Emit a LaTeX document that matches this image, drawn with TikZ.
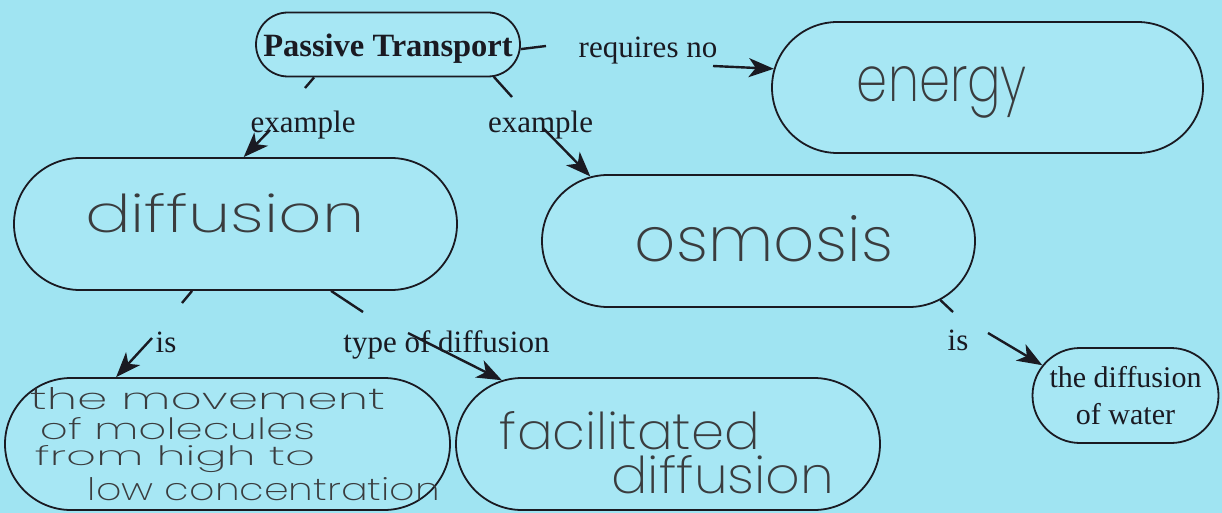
\documentclass[tikz,border=0pt]{standalone}
\usepackage{fontspec}
\usepackage{graphicx}
\setmainfont{Liberation Serif}
\newfontfamily\hand{Poppins ExtraLight}
\usetikzlibrary{shapes.misc,arrows.meta}
\definecolor{bg}{RGB}{160,228,242}
\definecolor{boxfill}{RGB}{167,231,244}
\definecolor{ink}{RGB}{26,26,34}
\definecolor{pencil}{RGB}{58,60,62}
% handwritten word stretched to a given width and height
\newcommand\hw[3]{\resizebox{#1}{#2}{\hand #3}}

\begin{document}
\begin{tikzpicture}[x=1pt,y=-1pt,
  stad/.style={rounded rectangle, draw=ink, line width=1.8pt, fill=boxfill, inner sep=0pt},
  lbl/.style={font=\fontsize{31}{34}\selectfont, text=ink, inner sep=0pt, anchor=base},
  seg/.style={draw=ink, line width=2.4pt},
  arr/.style={draw=ink, line width=2.4pt, -{Stealth[length=25pt,width=19pt,inset=7pt]}},
  hand/.style={text=pencil, inner sep=0pt}]

\fill[bg] (0,0) rectangle (1222,513);
\useasboundingbox (0,0) rectangle (1222,513);

% concept boxes
\node[stad, minimum width=264pt, minimum height=64pt, text=ink,
      font=\bfseries\fontsize{32.5}{34}\selectfont, text height=27pt, text depth=2pt]
      (pt) at (388,44.5) {Passive Transport};

\node[stad, minimum width=431pt, minimum height=131pt,
      label={[hand,xshift=-45.5pt,yshift=-5pt]center:{\hw{170pt}{35pt}{energy}}}]
      (en) at (987.5,87.5) {};

\node[stad, minimum width=443pt, minimum height=132pt,
      label={[hand,xshift=-10.5pt,yshift=11pt]center:{\hw{280pt}{39pt}{diffusion}}}]
      (df) at (235.5,224) {};

\node[stad, minimum width=433pt, minimum height=132pt,
      label={[hand,xshift=5.5pt,yshift=2pt]center:{\hw{258pt}{46pt}{osmosis}}}]
      (os) at (758.5,241) {};

\node[stad, minimum width=445pt, minimum height=132pt,
      label={[hand,xshift=-20pt,yshift=45pt]center:{\hw{355pt}{22pt}{the movement}}},
      label={[hand,xshift=-50pt,yshift=15pt]center:{\hw{275pt}{22pt}{of molecules}}},
      label={[hand,xshift=-52.5pt,yshift=-15pt]center:{\hw{280pt}{20pt}{from high to}}},
      label={[hand,xshift=36.5pt,yshift=-45pt]center:{\hw{352pt}{23pt}{low concentration}}}]
      (mv) at (227.5,444) {};

\node[stad, minimum width=424pt, minimum height=132pt,
      label={[hand,xshift=-38pt,yshift=13pt]center:{\hw{260pt}{38pt}{facilitated}}},
      label={[hand,xshift=55pt,yshift=-31pt]center:{\hw{223pt}{38pt}{diffusion}}}]
      (fc) at (668,444) {};

\node[stad, minimum width=186pt, minimum height=95pt, text=ink, align=center,
      font=\fontsize{30}{37}\selectfont]
      (wt) at (1125.5,395.5) {the diffusion\\of water};

% link phrases
\node[lbl] (l1) at (648,58) {requires no};
\node[lbl] (l2) at (303,133) {example};
\node[lbl] (l3) at (540.5,133) {example};
\node[lbl] (l4) at (166,352) {is};
\node[lbl] (l5) at (446.5,352) {type of diffusion};
\node[lbl] (l6) at (958,350) {is};

% connectors: a stub leaving each box, then an arrow into the next box
\coordinate (e1) at (546,46);
\coordinate (s1) at (713,66);
\draw[seg] (pt.-2) -- (e1);
\draw[arr] (s1) -- (en.175.4);

\coordinate (e2) at (305,88);
\coordinate (s2) at (270,130);
\draw[seg] (pt.204) -- (e2);
\draw[arr] (s2) -- (df.83.5);

\coordinate (e3) at (512,97);
\coordinate (s3) at (543,128);
\draw[seg] (pt.-17) -- (e3);
\draw[arr] (s3) -- (os.159.5);

\coordinate (e4) at (182,303);
\coordinate (s4) at (152,338);
\draw[seg] (df.237.2) -- (e4);
\draw[arr] (s4) -- (mv.149.2);

\coordinate (e5) at (363,312);
\coordinate (s5) at (408,333);
\draw[seg] (df.-35.8) -- (e5);
\draw[arr] (s5) -- (fc.159.7);

\coordinate (e6) at (953,312);
\coordinate (s6) at (988,333);
\draw[seg] (os.-18) -- (e6);
\draw[arr] (s6) -- (wt.160.8);
\end{tikzpicture}
\end{document}
